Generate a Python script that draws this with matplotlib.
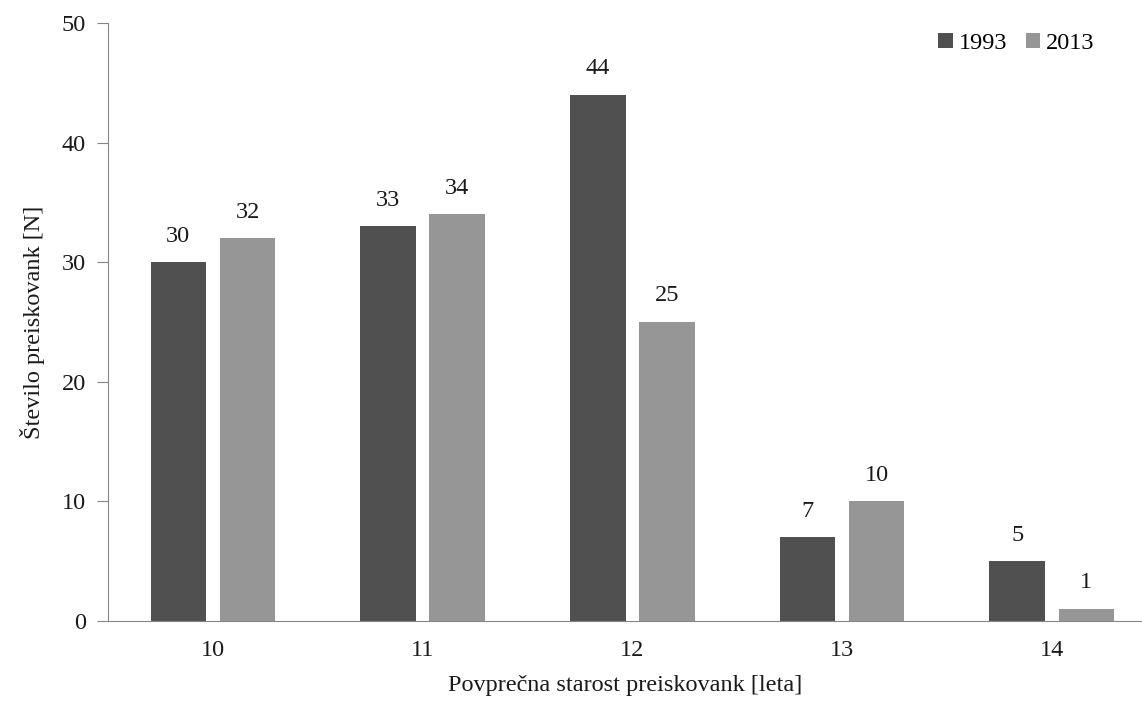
import numpy as np
import matplotlib.pyplot as plt

plt.rcParams['font.family'] = ['Liberation Serif', 'DejaVu Serif']

ages = ['10', '11', '12', '13', '14']
n_1993 = [30, 33, 44, 7, 5]
n_2013 = [32, 34, 25, 10, 1]

c_dark = '#505050'
c_light = '#969696'
axis_col = '#868686'
txt = '#1a1a1a'
fs = 17.5

fig = plt.figure(figsize=(11.42, 7.06), dpi=100)
ax = fig.add_axes([0.0946, 0.1204, 0.9054, 0.847])

x = np.arange(len(ages))
w = 0.265
off = 0.165
b1 = ax.bar(x - off, n_1993, w, color=c_dark, label='1993')
b2 = ax.bar(x + off, n_2013, w, color=c_light, label='2013')

for bars, vals in [(b1, n_1993), (b2, n_2013)]:
    for b, v in zip(bars, vals):
        ax.text(b.get_x() + b.get_width() / 2, v + 1.3, str(v),
                ha='center', va='bottom', fontsize=fs, color=txt)

ax.set_xlim(-0.5, 4.43)
ax.set_ylim(0, 50)
ax.set_yticks(range(0, 51, 10))
ax.set_xticks(x)
ax.set_xticklabels(ages)

for s in ['top', 'right']:
    ax.spines[s].set_visible(False)
ax.spines['left'].set_color(axis_col)
ax.spines['bottom'].set_color(axis_col)
ax.tick_params(axis='y', length=8, color=axis_col, labelsize=fs, pad=8, labelcolor=txt)
ax.tick_params(axis='x', length=0, labelsize=fs, pad=14, labelcolor=txt)

ax.set_xlabel('Povprečna starost preiskovank [leta]', fontsize=fs, labelpad=10, color=txt)
ax.set_ylabel('Število preiskovank [N]', fontsize=fs, labelpad=12, color=txt)

ax.legend(loc='upper right', bbox_to_anchor=(0.9755, 1.02), ncol=2, frameon=False,
          fontsize=fs, handlelength=0.6, handleheight=0.6, handletextpad=0.25,
          columnspacing=0.75)

fig.savefig('out.png', dpi=100)
